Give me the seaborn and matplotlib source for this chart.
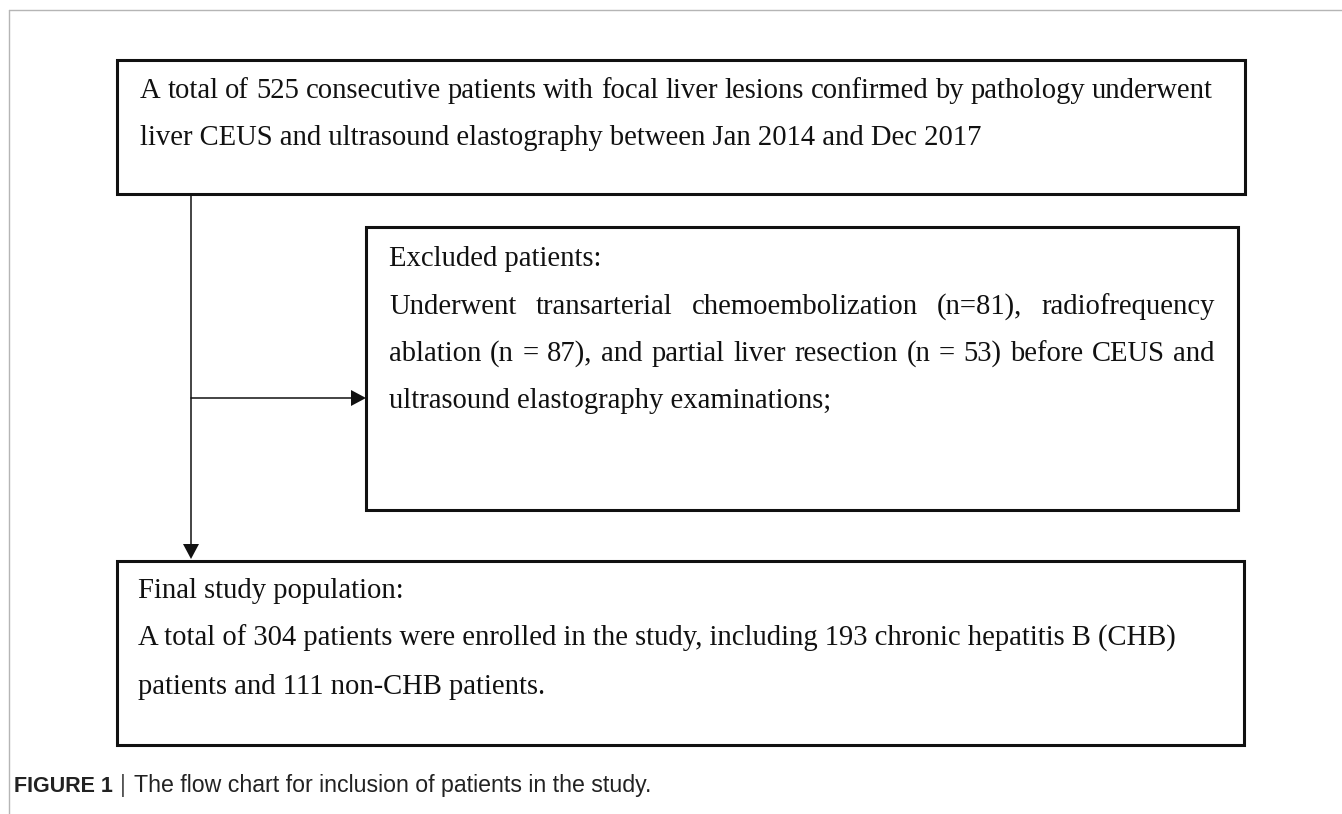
import matplotlib
matplotlib.use("Agg")
import matplotlib.pyplot as plt
import seaborn as sns
from matplotlib.patches import Rectangle, Polygon

# Flow chart texts
top_lines = [
    "A total of 525 consecutive patients with focal liver lesions confirmed by pathology underwent",
    "liver CEUS and ultrasound elastography between Jan 2014 and Dec 2017",
]
excluded_lines = [
    "Excluded patients:",
    "Underwent transarterial chemoembolization (n=81), radiofrequency",
    "ablation (n = 87), and partial liver resection (n = 53) before CEUS and",
    "ultrasound elastography examinations;",
]
final_lines = [
    "Final study population:",
    "A total of 304 patients were enrolled in the study, including 193 chronic hepatitis B (CHB)",
    "patients and 111 non-CHB patients.",
]
top_justify = [True, False]
excluded_justify = [False, True, True, False]
final_justify = [False, False, False]
caption_label = "FIGURE 1"
caption_text = "The flow chart for inclusion of patients in the study."

sns.set_theme(style="white")
plt.rcParams["font.family"] = ["Liberation Serif", "DejaVu Serif"]

W, H = 1342, 814
fig = plt.figure(figsize=(W / 100, H / 100), dpi=100)
ax = fig.add_axes([0, 0, 1, 1])
ax.set_xlim(0, W)
ax.set_ylim(H, 0)
ax.axis("off")
renderer = fig.canvas.get_renderer()

serif = dict(fontsize=20.6, color="#111111", va="baseline", ha="left",
             family=["Liberation Serif", "DejaVu Serif"])


def draw_lines(lines, justify, x, y0, step, right):
    for i, (line, jst) in enumerate(zip(lines, justify)):
        y = y0 + i * step
        if not jst:
            ax.text(x, y, line, **serif)
            continue
        words = line.split()
        texts = [ax.text(0, y, w, **serif) for w in words]
        widths = [t.get_window_extent(renderer).width for t in texts]
        gap = (right - x - sum(widths)) / (len(words) - 1)
        pos = x
        for t, w in zip(texts, widths):
            t.set_x(pos)
            pos += w + gap


def box(x0, y0, x1, y1):
    ax.add_patch(Rectangle((x0, y0), x1 - x0, y1 - y0, fill=False,
                           edgecolor="#111111", lw=2.2))


# outer page frame
ax.plot([9, W], [10, 10], color="#b5b5b5", lw=1.0)
ax.plot([9, 9], [10, H], color="#b5b5b5", lw=1.0)

box(117, 60, 1245, 194)
box(366, 227, 1238, 510)
box(117, 561, 1244, 745)

draw_lines(top_lines, top_justify, 140, 98, 47, 1213)
draw_lines(excluded_lines, excluded_justify, 389, 266, 47.5, 1215)
draw_lines(final_lines, final_justify, 138, 598, 48, 1215)

# connectors
ax.plot([191, 191], [194, 545], color="#111111", lw=1.1)
ax.add_patch(Polygon([[183, 544], [199, 544], [191, 559]], closed=True,
                     color="#111111", lw=0))
ax.plot([191, 352], [398, 398], color="#111111", lw=1.1)
ax.add_patch(Polygon([[351, 390], [351, 406], [366, 398]], closed=True,
                     color="#111111", lw=0))

# caption
sans = dict(va="baseline", ha="left", family=["Liberation Sans", "DejaVu Sans"])
lab = ax.text(14, 792, caption_label, fontsize=15.5, fontweight="bold",
              color="#222222", **sans)
lw_ = lab.get_window_extent(renderer).width
ax.text(14 + lw_ + 7, 792, "|", fontsize=16.5, color="#555555", **sans)
ax.text(14 + lw_ + 21, 792, caption_text, fontsize=16.7, color="#222222", **sans)

fig.savefig("out.png", dpi=100)
